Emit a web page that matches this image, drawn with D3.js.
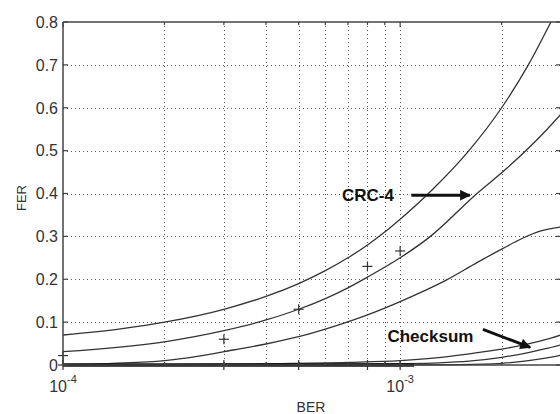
<!DOCTYPE html>
<html><head><meta charset="utf-8">
<script src="https://cdn.jsdelivr.net/npm/d3@7"></script>
<style>
body{margin:0;background:#fff;}
svg{display:block;}
text{font-family:"Liberation Sans",Arial,Helvetica,sans-serif;fill:#333;}
</style></head><body>
<svg id="c" width="560" height="414"></svg>
<script>
// ---- data ----
const xDomain = [1e-4, 3e-3];
const yDomain = [0, 0.8];
const yTicks = [0, 0.1, 0.2, 0.3, 0.4, 0.5, 0.6, 0.7, 0.8];
const yTickLabels = ["0", "0.1", "0.2", "0.3", "0.4", "0.5", "0.6", "0.7", "0.8"];
const xMajorTicks = [1e-4, 1e-3];
const xMajorExp = ["-4", "-3"];
const xMinorTicks = [2e-4, 3e-4, 4e-4, 5e-4, 6e-4, 7e-4, 8e-4, 9e-4, 2e-3, 3e-3];

const crcCurveA = [[1e-4,0.07],[1.5e-4,0.085],[2e-4,0.10],[3e-4,0.13],[4e-4,0.16],[5e-4,0.19],[6e-4,0.22],[7e-4,0.25],[8e-4,0.28],[9e-4,0.31],[1e-3,0.34],[1.25e-3,0.41],[1.6e-3,0.50],[2e-3,0.60],[2.4e-3,0.70],[2.8e-3,0.80]];
const crcCurveB = [[1e-4,0.031],[2e-4,0.054],[3e-4,0.08],[4e-4,0.105],[5e-4,0.13],[6e-4,0.155],[7e-4,0.18],[8e-4,0.205],[1e-3,0.25],[1.23e-3,0.30],[1.69e-3,0.40],[2.08e-3,0.46],[2.73e-3,0.55],[3e-3,0.585]];
const crcCurveC = [[1e-4,0.001],[1.4e-4,0.004],[2e-4,0.01],[2.5e-4,0.02],[3.2e-4,0.035],[4e-4,0.049],[5e-4,0.066],[6.3e-4,0.089],[8e-4,0.117],[1e-3,0.148],[1.37e-3,0.198],[1.7e-3,0.24],[2.02e-3,0.272],[2.3e-3,0.295],[2.6e-3,0.312],[3e-3,0.322]];
const sumCurveA = [[1e-4,0],[2e-4,0.001],[4e-4,0.003],[7e-4,0.006],[1e-3,0.01],[1.3e-3,0.017],[1.6e-3,0.026],[2e-3,0.037],[2.4e-3,0.049],[2.7e-3,0.059],[3e-3,0.07]];
const sumCurveB = [[1e-4,0],[5e-4,0.001],[1e-3,0.003],[1.3e-3,0.005],[1.6e-3,0.009],[2e-3,0.018],[2.4e-3,0.029],[2.7e-3,0.038],[3e-3,0.047]];
const sumCurveC = [[1e-4,0],[1e-3,0],[1.5e-3,0.001],[2e-3,0.004],[2.4e-3,0.01],[2.7e-3,0.016],[3e-3,0.023]];
const zeroSeries = [[1e-4,0],[1.1e-3,0]];
const crcMarkers = [[1e-4,0.022],[3e-4,0.06],[5e-4,0.13],[8e-4,0.23],[1e-3,0.266]];
const sumMarkers = [[1e-4,0],[3e-4,0],[5e-4,0],[8e-4,0],[1e-3,0]];

const annotations = [
  {text:"CRC-4", at:[8.03e-4,0.396], from:[1.08e-3,0.396], to:[1.61e-3,0.396]},
  {text:"Checksum", at:[1.23e-3,0.068], from:[1.76e-3,0.083], to:[2.43e-3,0.041]}
];

// ---- layout ----
const svg = d3.select("#c");
const mL = 63, mR = 561, mT = 22, mB = 365;
const x = d3.scaleLog().domain(xDomain).range([mL, mR]);
const y = d3.scaleLinear().domain(yDomain).range([mB, mT]);
const ink = "#333";

// grid
const grid = svg.append("g");
grid.selectAll("line.h").data(yTicks.filter(v => v > 0 && v < 0.8)).enter().append("line")
  .attr("x1", mL).attr("x2", mR).attr("y1", d => Math.round(y(d)) + 0.5).attr("y2", d => Math.round(y(d)) + 0.5)
  .attr("stroke", "#555").attr("stroke-width", 1).attr("stroke-dasharray", "1,3");
grid.selectAll("line.v").data(xMinorTicks.concat([1e-3])).enter().append("line")
  .attr("x1", d => Math.round(x(d)) + 0.5).attr("x2", d => Math.round(x(d)) + 0.5)
  .attr("y1", mT).attr("y2", mB)
  .attr("stroke", "#555").attr("stroke-width", 1).attr("stroke-dasharray", "1,3");

// curves
const line = d3.line().x(d => x(d[0])).y(d => y(d[1])).curve(d3.curveMonotoneX);
const curves = svg.append("g").attr("fill", "none");
[crcCurveA, crcCurveB, crcCurveC, sumCurveA, sumCurveB, sumCurveC].forEach(c => {
  curves.append("path").attr("d", line(c)).attr("stroke", ink).attr("stroke-width", 1.3);
});
curves.append("path").attr("d", line(zeroSeries)).attr("stroke", "#111").attr("stroke-width", 3.5);

// markers
const plus = svg.append("g").attr("stroke", ink).attr("stroke-width", 1.2);
crcMarkers.concat(sumMarkers).forEach(d => {
  const px = x(d[0]), py = y(d[1]);
  plus.append("line").attr("x1", px - 5).attr("x2", px + 5).attr("y1", py).attr("y2", py);
  plus.append("line").attr("x1", px).attr("x2", px).attr("y1", py - 5).attr("y2", py + 5);
});

// axes box
const axes = svg.append("g").attr("stroke", "#444").attr("stroke-width", 1.5).attr("fill", "none");
axes.append("line").attr("x1", mL).attr("x2", mL).attr("y1", mT).attr("y2", mB);
axes.append("line").attr("x1", mR).attr("x2", mR).attr("y1", mT).attr("y2", mB);
axes.append("line").attr("x1", mL).attr("x2", mR).attr("y1", mT).attr("y2", mT);
axes.append("line").attr("x1", mL).attr("x2", mR).attr("y1", mB).attr("y2", mB);

// ticks (inward)
const ticks = svg.append("g").attr("stroke", "#444").attr("stroke-width", 1.2);
yTicks.forEach(v => {
  ticks.append("line").attr("x1", mL).attr("x2", mL + 5).attr("y1", y(v)).attr("y2", y(v));
  ticks.append("line").attr("x1", mR - 5).attr("x2", mR).attr("y1", y(v)).attr("y2", y(v));
});
xMajorTicks.forEach(v => {
  ticks.append("line").attr("x1", x(v)).attr("x2", x(v)).attr("y1", mB).attr("y2", mB - 5);
  ticks.append("line").attr("x1", x(v)).attr("x2", x(v)).attr("y1", mT).attr("y2", mT + 5);
});
xMinorTicks.forEach(v => {
  ticks.append("line").attr("x1", x(v)).attr("x2", x(v)).attr("y1", mB).attr("y2", mB - 3);
  ticks.append("line").attr("x1", x(v)).attr("x2", x(v)).attr("y1", mT).attr("y2", mT + 3);
});

// tick labels
svg.append("g").selectAll("text").data(yTicks).enter().append("text")
  .attr("x", mL - 5).attr("y", d => y(d)).attr("dy", "0.36em")
  .attr("text-anchor", "end").attr("font-size", 16)
  .text((d, i) => yTickLabels[i]);
const xl = svg.append("g");
xMajorTicks.forEach((v, i) => {
  xl.append("text").attr("x", x(v) + 4).attr("y", mB + 27).attr("text-anchor", "end")
    .attr("font-size", 16).text("10");
  xl.append("text").attr("x", x(v) + 4).attr("y", mB + 18).attr("text-anchor", "start")
    .attr("font-size", 11).text(xMajorExp[i]);
});

// axis titles
svg.append("text").attr("transform", "translate(26,198) rotate(-90)")
  .attr("text-anchor", "middle").attr("font-size", 13).text("FER");
svg.append("text").attr("x", 311).attr("y", 412)
  .attr("text-anchor", "middle").attr("font-size", 14).text("BER");

// annotations
const defs = svg.append("defs");
defs.append("marker").attr("id", "ah").attr("viewBox", "0 0 10 10")
  .attr("refX", 9).attr("refY", 5).attr("markerWidth", 4.2).attr("markerHeight", 3.6)
  .attr("markerUnits", "strokeWidth").attr("orient", "auto")
  .append("path").attr("d", "M0,0 L10,5 L0,10 z").attr("fill", "#111");
annotations.forEach(a => {
  svg.append("text").attr("x", x(a.at[0])).attr("y", y(a.at[1])).attr("dy", "0.36em")
    .attr("text-anchor", "middle").attr("font-size", 17).attr("font-weight", "bold")
    .style("fill", "#111").text(a.text);
  svg.append("line").attr("x1", x(a.from[0])).attr("y1", y(a.from[1]))
    .attr("x2", x(a.to[0])).attr("y2", y(a.to[1]))
    .attr("stroke", "#111").attr("stroke-width", 3).attr("marker-end", "url(#ah)");
});
</script>
</body></html>
